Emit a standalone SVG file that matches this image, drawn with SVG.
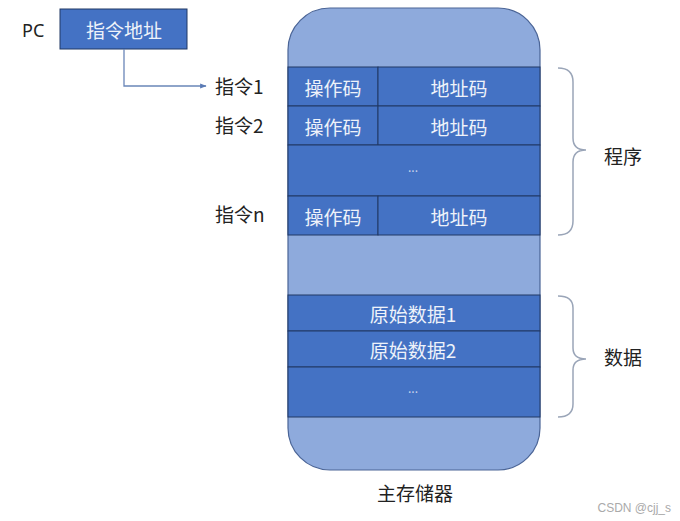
<svg xmlns="http://www.w3.org/2000/svg" width="680" height="521" viewBox="0 0 680 521">
<style>
text{font-family:"Noto Sans CJK SC","Liberation Sans",sans-serif;}
.lbl{font-size:19px;fill:#222;}
.w{font-size:19px;fill:#eef2fa;text-anchor:middle;dominant-baseline:central;}
.row{fill:#4472C4;stroke:#203864;stroke-width:1;}
.brace{fill:none;stroke:#9aa5b8;stroke-width:1.5;}
.dots{font-size:12px;fill:#c8d4ec;text-anchor:middle;}
</style>
<defs>
<marker id="ah" viewBox="0 0 10 10" refX="9" refY="5" markerWidth="5" markerHeight="5" orient="auto">
<path d="M0,1 L10,5 L0,9 z" fill="#5b7bb5"/>
</marker>
</defs>
<rect width="680" height="521" fill="#ffffff"/>
<g id="pc">
<text class="lbl" x="22" y="37" style="font-family:'Noto Sans','Liberation Sans',sans-serif;font-size:18px">PC</text>
<rect x="60" y="9" width="127" height="40" fill="#4472C4" stroke="#203864" stroke-width="1"/>
<text class="w" x="124" y="29">指令地址</text>
</g>
<g id="connectors">
<path d="M124,49 V86 H206" fill="none" stroke="#6a86b8" stroke-width="1.3" marker-end="url(#ah)"/>
</g>
<g id="memory">
<path d="M330,8 H498 A42,42 0 0 1 540,50 V428 A42,42 0 0 1 498,470 H330 A42,42 0 0 1 288,428 V50 A42,42 0 0 1 330,8 Z" fill="#8EAADC" stroke="#4a6496" stroke-width="1.2"/>
</g>
<g id="instr1">
<rect class="row" x="288" y="67" width="90" height="39"/>
<rect class="row" x="378" y="67" width="162" height="39"/>
<text class="w" x="333" y="87">操作码</text>
<text class="w" x="459" y="87">地址码</text>
<text class="lbl" x="215" y="94">指令1</text>
</g>
<g id="instr2">
<rect class="row" x="288" y="106" width="90" height="39"/>
<rect class="row" x="378" y="106" width="162" height="39"/>
<text class="w" x="333" y="126">操作码</text>
<text class="w" x="459" y="126">地址码</text>
<text class="lbl" x="215" y="133">指令2</text>
</g>
<g id="instrdots">
<rect class="row" x="288" y="145" width="252" height="51"/>
<text class="dots" x="413" y="172">...</text>
</g>
<g id="instrn">
<rect class="row" x="288" y="196" width="90" height="39"/>
<rect class="row" x="378" y="196" width="162" height="39"/>
<text class="w" x="333" y="216">操作码</text>
<text class="w" x="459" y="216">地址码</text>
<text class="lbl" x="215" y="222">指令n</text>
</g>
<g id="data1">
<rect class="row" x="288" y="295" width="252" height="36"/>
<text class="w" x="413" y="313">原始数据1</text>
</g>
<g id="data2">
<rect class="row" x="288" y="331" width="252" height="36"/>
<text class="w" x="413" y="349">原始数据2</text>
</g>
<g id="datadots">
<rect class="row" x="288" y="367" width="252" height="50"/>
<text class="dots" x="413" y="393">...</text>
</g>
<g id="program">
<path class="brace" d="M558,68 Q573,68 573,82 V138 Q573,150 586,150 Q573,150 573,162 V221 Q573,235 558,235"/>
<text class="lbl" x="604" y="164">程序</text>
</g>
<g id="data">
<path class="brace" d="M558,296 Q573,296 573,308 V348 Q573,359 586,359 Q573,359 573,370 V404 Q573,417 558,417"/>
<text class="lbl" x="604" y="365">数据</text>
</g>
<text class="lbl" x="415" y="501" text-anchor="middle">主存储器</text>
<text x="671" y="512" text-anchor="end" style="font-family:'Liberation Sans',sans-serif;font-size:12px;fill:#aaaaaa">CSDN @cjj_s</text>
</svg>
